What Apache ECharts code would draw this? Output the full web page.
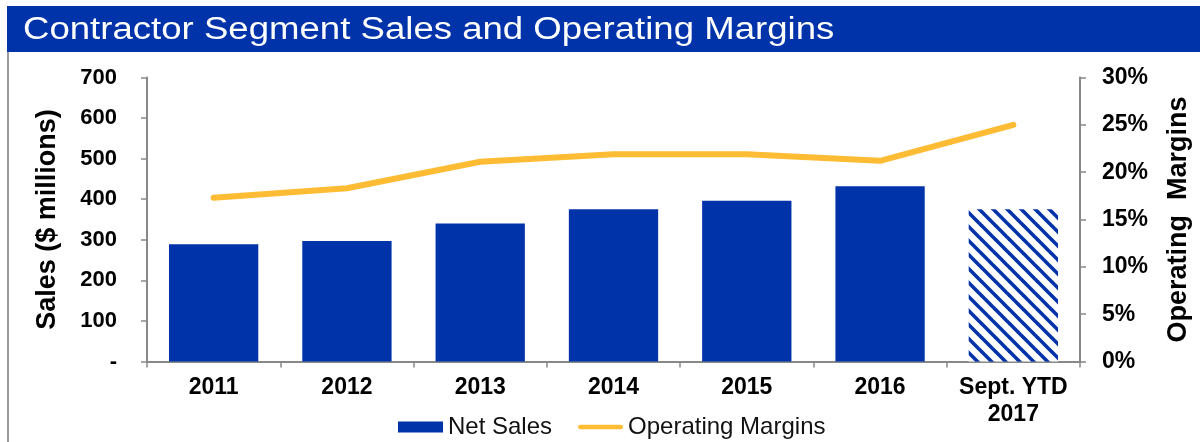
<!DOCTYPE html>
<html>
<head>
<meta charset="utf-8">
<script src="https://cdn.jsdelivr.net/npm/echarts@6/dist/echarts.min.js"></script>
<style>
html,body{margin:0;padding:0;background:#fff;}
#chart{width:1200px;height:442px;}
</style>
</head>
<body>
<div id="chart"></div>
<script>
const categories = ['2011', '2012', '2013', '2014', '2015', '2016', 'Sept. YTD\n2017'];
const netSales = [289, 297, 340, 375, 396, 432, 375];
const operatingMargins = [17.3, 18.3, 21.1, 21.9, 21.9, 21.2, 25.0];
const salesTicks = ['-', '100', '200', '300', '400', '500', '600', '700'];

const BLUE = '#0033A9';
const GOLD = '#FDBC33';

function hatch() {
  const s = 14;
  const c = document.createElement('canvas');
  c.width = s; c.height = s;
  const ctx = c.getContext('2d');
  ctx.fillStyle = '#fff';
  ctx.fillRect(0, 0, s, s);
  ctx.strokeStyle = BLUE;
  ctx.lineWidth = 3.6;
  for (let k = -1; k <= 1; k++) {
    ctx.beginPath();
    ctx.moveTo(k * s - 2, -2);
    ctx.lineTo(k * s + s + 2, s + 2);
    ctx.stroke();
  }
  return c;
}

const barData = netSales.map((v, i) => i === categories.length - 1
  ? { value: v, itemStyle: { color: { image: hatch(), repeat: 'repeat' } } }
  : v);

const chart = echarts.init(document.getElementById('chart'), null, { renderer: 'canvas' });
const FONT = 'Liberation Sans, Arial, sans-serif';
chart.setOption({
  animation: false,
  textStyle: { fontFamily: FONT },
  graphic: [
    { type: 'rect', z: -1, shape: { x: 7, y: 6, width: 1193, height: 46 }, style: { fill: BLUE } },
    { type: 'text', x: 23, y: 30, scaleX: 1.18, z: 10,
      style: { text: 'Contractor Segment Sales and Operating Margins', fill: '#fff',
        font: 'normal 31px ' + FONT, verticalAlign: 'middle', align: 'left' } },
    { type: 'line', shape: { x1: 8, y1: 52, x2: 8, y2: 442 }, style: { stroke: '#999', lineWidth: 2 } }
  ],
  grid: { left: 147, right: 116, top: 77.5, bottom: 80.5 },
  legend: {
    left: 393, top: 410,
    itemWidth: 45, itemHeight: 11, itemGap: 26,
    symbolKeepAspect: true,
    textStyle: { fontSize: 24, color: '#111', fontFamily: FONT },
    data: [
      { name: 'Net Sales', icon: 'rect' },
      { name: 'Operating Margins', icon: 'path://M2.5,0 H46.5 A2.5,2.5 0 0 1 46.5,5 H2.5 A2.5,2.5 0 0 1 2.5,0 Z' }
    ]
  },
  xAxis: {
    type: 'category',
    data: categories,
    axisLine: { lineStyle: { color: '#888', width: 2 } },
    axisTick: { show: true, length: 6, lineStyle: { color: '#888', width: 1.5 } },
    axisLabel: { color: '#000', fontSize: 23, fontWeight: 'bold', margin: 13, lineHeight: 27, interval: 0 }
  },
  yAxis: [
    {
      type: 'value', min: 0, max: 700, interval: 100,
      name: 'Sales ($ millions)', nameLocation: 'middle', nameGap: 86,
      nameTextStyle: { color: '#000', fontSize: 27, fontWeight: 'bold' },
      axisLine: { show: true, lineStyle: { color: '#888', width: 2 } },
      axisTick: { show: true, length: 6, lineStyle: { color: '#888', width: 1.5 } },
      splitLine: { show: false },
      axisLabel: { color: '#000', fontSize: 22, fontWeight: 'bold', margin: 30,
        formatter: (v) => salesTicks[Math.round(v / 100)] }
    },
    {
      type: 'value', min: 0, max: 30, interval: 5,
      name: 'Operating  Margins', nameLocation: 'middle', nameGap: 85, nameRotate: 90,
      nameTextStyle: { color: '#000', fontSize: 27, fontWeight: 'bold' },
      axisLine: { show: true, lineStyle: { color: '#888', width: 2 } },
      axisTick: { show: true, length: 6, lineStyle: { color: '#888', width: 1.5 } },
      splitLine: { show: false },
      axisLabel: { color: '#000', fontSize: 23, fontWeight: 'bold', margin: 22, formatter: '{value}%' }
    }
  ],
  series: [
    {
      name: 'Net Sales', type: 'bar', yAxisIndex: 0,
      data: barData, barCategoryGap: '33%',
      itemStyle: { color: BLUE }
    },
    {
      name: 'Operating Margins', type: 'line', yAxisIndex: 1,
      data: operatingMargins, symbol: 'none', z: 5,
      lineStyle: { color: GOLD, width: 6, cap: 'round', join: 'round' },
      itemStyle: { color: GOLD }
    }
  ]
});
</script>
</body>
</html>
